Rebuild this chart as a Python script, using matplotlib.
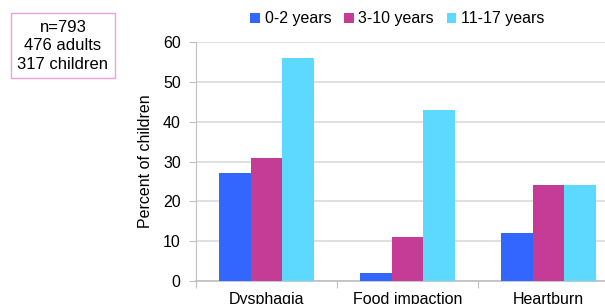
import matplotlib.pyplot as plt
import numpy as np

plt.rcParams['font.family'] = ['Liberation Sans', 'DejaVu Sans']

categories = ["Dysphagia", "Food impaction", "Heartburn"]
age_groups = ["0-2 years", "3-10 years", "11-17 years"]
values_0_2 = [27, 2, 12]
values_3_10 = [31, 11, 24]
values_11_17 = [56, 43, 24]
colors = ["#3366FF", "#C43C96", "#5DD8FF"]

fig = plt.figure(figsize=(6.05, 3.04), dpi=100)
ax = fig.add_axes([0.324, 0.0757, 0.699, 0.786])

x = np.arange(len(categories))
w = 0.224
for i, (vals, lab) in enumerate(zip([values_0_2, values_3_10, values_11_17], age_groups)):
    ax.bar(x + (i - 1) * w, vals, width=w, color=colors[i], label=lab, zorder=3)

ax.set_xlim(-0.5, 2.5)
ax.set_ylim(0, 60)
ax.set_yticks(range(0, 61, 10))
ax.yaxis.grid(True, color="#d9d9d9", linewidth=1.2, zorder=0)
ax.set_axisbelow(True)

ax.set_xticks([-0.5, 0.5, 1.5, 2.5])
ax.set_xticklabels([])
ax.set_xticks(x, minor=True)
ax.set_xticklabels(categories, minor=True, fontsize=11.5)
ax.tick_params(axis="x", which="minor", length=0, pad=8)
ax.tick_params(axis="x", which="major", length=5, color="#bfbfbf")
ax.tick_params(axis="y", length=5, color="#bfbfbf", labelsize=11.5, pad=6)

for s in ["top", "right"]:
    ax.spines[s].set_visible(False)
ax.spines["left"].set_color("#bfbfbf")
ax.spines["bottom"].set_color("#bfbfbf")
ax.spines["bottom"].set_linewidth(1.2)

ax.set_ylabel("Percent of children", fontsize=11.5, labelpad=7)

fig.legend(loc="upper left", bbox_to_anchor=(0.39, 1.01), ncol=3, frameon=False,
           fontsize=11.5, handlelength=0.6, handleheight=0.6, handletextpad=0.3,
           columnspacing=0.8)

fig.text(0.104, 0.85, "n=793\n476 adults\n317 children", ha="center", va="center",
         fontsize=12, linespacing=1.3,
         bbox=dict(boxstyle="square,pad=0.4", facecolor="white", edgecolor="#F0A0D8", linewidth=1))

fig.savefig("out.png", dpi=100)
